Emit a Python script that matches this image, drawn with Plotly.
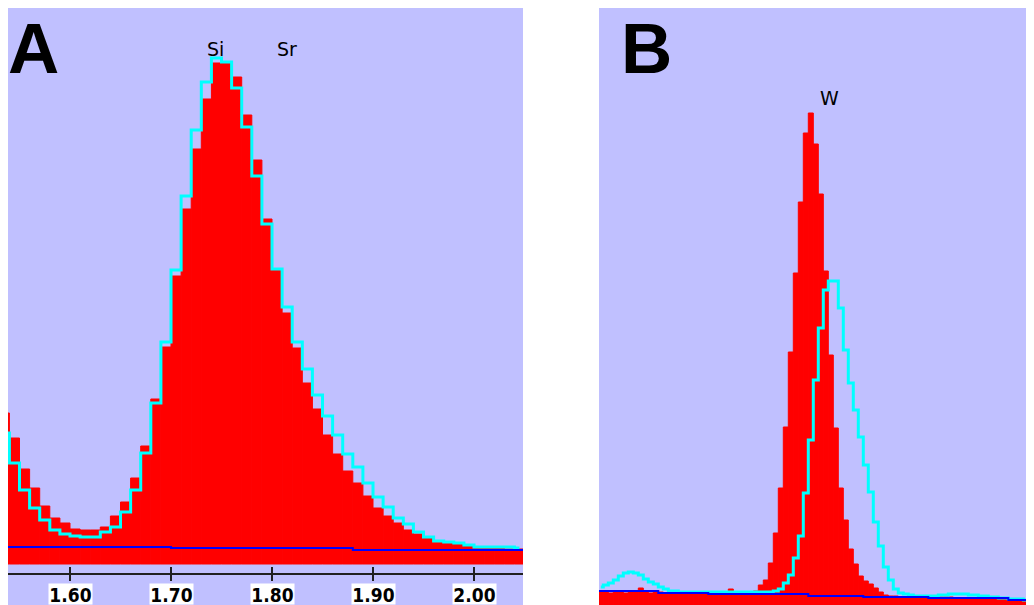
import numpy as np
import plotly.graph_objects as go

# --- panel A: Si K / Sr L region, 10 eV channels ---
a_start = 1.535
a_step = 0.01
a_measured = [151, 126, 95, 76, 58, 46, 41, 35, 34, 34,
              37, 48, 62, 86, 118, 165, 217, 288, 355, 415,
              465, 501, 501, 487, 449, 404, 345, 294, 251, 216,
              181, 155, 129, 110, 93, 81, 68, 56, 48, 41,
              34, 30, 26, 23, 21, 20, 18, 16, 16, 16,
              15, 15]
a_fit = [131, 101, 74, 56, 44, 34, 30, 28, 27, 27,
         32, 37, 52, 74, 111, 161, 222, 294, 368, 434,
         482, 506, 502, 476, 437, 388, 340, 295, 257, 222,
         195, 169, 148, 129, 110, 97, 81, 67, 57, 46,
         40, 32, 27, 23, 22, 21, 19, 17, 17, 17,
         17, 16]
a_bg_x = [1.53, 1.70, 1.88, 2.05]
a_bg_y = [17, 16, 14, 14]
a_ticks = [1.60, 1.70, 1.80, 1.90, 2.00]
a_tick_text = ["1.60", "1.70", "1.80", "1.90", "2.00"]
a_lines = ["Si", "Sr"]
a_line_e = [1.7436, 1.8149]

# --- panel B: W M region ---
b_start = 1.355
b_step = 0.01
b_measured = [16, 16, 15, 16, 16, 15, 16, 17, 20, 16,
              15, 16, 16, 15, 15, 15, 14, 15, 15, 15,
              14, 14, 14, 14, 14, 14, 19, 14, 14, 14,
              14, 17, 23, 28, 45, 75, 120, 181, 256, 335,
              406, 475, 495, 464, 414, 337, 253, 180, 120, 88,
              59, 44, 32, 27, 24, 20, 16, 13, 12, 12,
              11, 11, 11, 11, 11, 11, 11, 11, 11, 11,
              11, 10, 10, 10, 10, 10, 10, 10, 10, 10,
              10, 9, 9, 8, 8, 8, 8, 8]
b_fit = [21, 23, 25, 28, 32, 35, 36, 35, 33, 29,
         26, 24, 21, 19, 17, 17, 16, 16, 16, 16,
         16, 16, 16, 16, 16, 16, 16, 16, 16, 16,
         16, 16, 16, 16, 16, 17, 19, 25, 33, 50,
         72, 115, 168, 228, 280, 318, 327, 327, 300, 258,
         225, 198, 171, 143, 116, 86, 62, 41, 28, 19,
         15, 14, 13, 12, 12, 12, 12, 12, 13, 13,
         14, 14, 14, 14, 13, 13, 12, 12, 11, 11,
         10, 10, 9, 9, 9, 8, 8, 8]
b_bg_x = [1.35, 1.47, 1.57, 1.77, 1.88, 2.01, 2.17, 2.23]
b_bg_y = [17, 15, 14, 12, 11, 10, 8, 8]
b_lines = ["W"]
b_line_e = [1.8114]

a_e = a_start + a_step * np.arange(len(a_measured))
b_e = b_start + b_step * np.arange(len(b_measured))

RED = "#FF0000"
CYAN = "#00FFFF"
BLUE = "#0000FF"
BG = "#C0C0FF"
# the page body has an 8px margin, so the figure starts at (8, 8)
W, H = 1026, 597

a_range = [1.5386, 2.0485]
b_range = [1.3514, 2.2214]
axis_y = -10

fig = go.Figure()

# panel A
fig.add_trace(go.Bar(x=a_e, y=a_measured, width=a_step,
                     marker=dict(color=RED, line=dict(color=RED, width=1)),
                     xaxis="x", yaxis="y"))
fig.add_trace(go.Scatter(x=a_e, y=a_fit, mode="lines", line=dict(color=CYAN, width=3, shape="hvh"),
                         xaxis="x", yaxis="y"))
fig.add_trace(go.Scatter(x=a_bg_x, y=a_bg_y, mode="lines", line=dict(color=BLUE, width=2, shape="hv"),
                         xaxis="x", yaxis="y"))
fig.add_trace(go.Scatter(x=a_range, y=[axis_y, axis_y], mode="lines", line=dict(color="#202020", width=2),
                         xaxis="x", yaxis="y"))
fig.add_trace(go.Scatter(x=a_ticks, y=[axis_y] * len(a_ticks), mode="markers",
                         marker=dict(symbol="line-ns", size=10, line=dict(color="#202020", width=2)),
                         xaxis="x", yaxis="y"))

# panel B
fig.add_trace(go.Bar(x=b_e, y=b_measured, width=b_step,
                     marker=dict(color=RED, line=dict(color=RED, width=1)),
                     xaxis="x2", yaxis="y2"))
fig.add_trace(go.Scatter(x=b_e, y=b_fit, mode="lines", line=dict(color=CYAN, width=3, shape="hvh"),
                         xaxis="x2", yaxis="y2"))
fig.add_trace(go.Scatter(x=b_bg_x, y=b_bg_y, mode="lines", line=dict(color=BLUE, width=2, shape="hv"),
                         xaxis="x2", yaxis="y2"))

annotations = []
for v, t in zip(a_ticks, a_tick_text):
    annotations.append(dict(x=v, y=-19, xref="x", yref="y", text="<b>%s</b>" % t, showarrow=False,
                            xanchor="center", yanchor="top", valign="top", bgcolor="white",
                            width=43, height=20, borderpad=0,
                            font=dict(family="Liberation Sans Narrow, DejaVu Sans Condensed, sans-serif",
                                      size=19, color="black")))
for t, e in zip(a_lines, a_line_e):
    annotations.append(dict(x=e, y=515, xref="x", yref="y", text=t, showarrow=False,
                            xanchor="center", yanchor="middle",
                            font=dict(family="DejaVu Sans", size=19, color="black")))
for t, e in zip(b_lines, b_line_e):
    annotations.append(dict(x=e, y=510, xref="x2", yref="y2", text=t, showarrow=False,
                            xanchor="center", yanchor="middle",
                            font=dict(family="DejaVu Sans", size=19, color="black")))
for t, px in (("A", 0), ("B", 613)):
    annotations.append(dict(x=px / W, y=1.0, xref="paper", yref="paper", text="<b>%s</b>" % t,
                            showarrow=False, xanchor="left", yanchor="top", borderpad=0,
                            xshift=-1,
                            font=dict(family="Liberation Sans, Arial, sans-serif", size=71, color="black")))

hidden = dict(visible=False, showgrid=False, zeroline=False, fixedrange=True)
fig.update_layout(
    width=W, height=H,
    margin=dict(l=0, r=0, t=0, b=0),
    paper_bgcolor="white",
    plot_bgcolor=BG,
    showlegend=False,
    barmode="overlay",
    xaxis=dict(domain=[0, 515 / W], range=a_range, anchor="y", **hidden),
    yaxis=dict(domain=[0, 1], range=[-41, 556], anchor="x", **hidden),
    xaxis2=dict(domain=[591 / W, 1], range=b_range, anchor="y2", **hidden),
    yaxis2=dict(domain=[0, 1], range=[3, 600], anchor="x2", **hidden),
    annotations=annotations,
)

fig.write_html("out.html")
